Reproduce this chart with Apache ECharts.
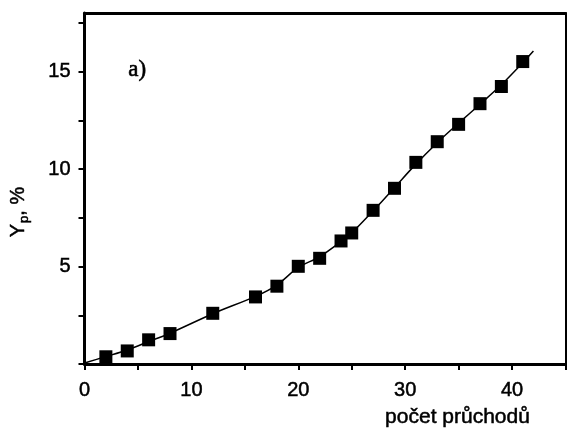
<!DOCTYPE html>
<html>
<head>
<meta charset="utf-8">
<script src="https://cdn.jsdelivr.net/npm/echarts@6/dist/echarts.min.js"></script>
<style>
  html, body { margin: 0; padding: 0; background: #fff; }
  #chart { width: 567px; height: 428px; }
</style>
</head>
<body>
<div id="chart"></div>
<script>
// Measured yield vs. number of passes
const passes   = [2, 4, 6, 8, 12, 16, 18, 20, 22, 24, 25, 27, 29, 31, 33, 35, 37, 39, 41];
const yieldPct = [0.37, 0.67, 1.24, 1.56, 2.60, 3.44, 3.99, 5.01, 5.42, 6.31, 6.72, 7.88, 9.01, 10.34, 11.40, 12.29, 13.35, 14.23, 15.51];

// Smooth trend curve through the measurements
const curveX = [0, 2, 4, 6, 8, 12, 16, 18, 20, 22, 24, 25, 27, 29, 31, 33, 35, 37, 39, 41, 42];
const curveY = [0.05, 0.38, 0.72, 1.15, 1.58, 2.58, 3.47, 4.05, 4.95, 5.50, 6.28, 6.72, 7.85, 9.05, 10.25, 11.35, 12.35, 13.32, 14.32, 15.45, 16.05];

// Axis ticks and labels
const xLabels = [0, 10, 20, 30, 40];
const xTicks  = [0, 5, 10, 15, 20, 25, 30, 35, 40, 45];
const yLabels = [5, 10, 15];
const yTicks  = [0, 2.5, 5, 7.5, 10, 12.5, 15, 17.5];

const pts = passes.map((x, i) => [x, yieldPct[i]]);
const curve = curveX.map((x, i) => [x, curveY[i]]);

const sans = 'Liberation Sans, Arial, sans-serif';
// slightly heavier glyphs for all text
const ink = { color: '#000', textBorderColor: '#000', textBorderWidth: 0.5 };
const chart = echarts.init(document.getElementById('chart'), null, { renderer: 'canvas' });

chart.setOption({
  backgroundColor: '#fff',
  animation: false,
  grid: { left: 84.5, right: 1.5, top: 13, bottom: 64, containLabel: false, outerBoundsMode: 'none' },
  xAxis: [{
    type: 'value', min: 0, max: 45,
    axisLine: { show: true, onZero: false, lineStyle: { color: '#000', width: 3 } },
    axisTick: { show: true, inside: false, length: 6, customValues: xTicks, lineStyle: { color: '#000', width: 2 } },
    axisLabel: Object.assign({ customValues: xLabels, margin: 16, fontFamily: sans, fontSize: 20 }, ink),
    splitLine: { show: false },
    name: 'počet průchodů',
    nameLocation: 'middle',
    nameGap: 43,
    nameTextStyle: Object.assign({ fontFamily: sans, fontSize: 21, padding: [0, 0, 0, 265] }, ink)
  }, {
    type: 'value', min: 0, max: 45, position: 'top',
    axisLine: { show: true, onZero: false, lineStyle: { color: '#000', width: 3 } },
    axisTick: { show: false }, axisLabel: { show: false }, splitLine: { show: false }
  }],
  yAxis: [{
    type: 'value', min: 0, max: 18,
    axisLine: { show: true, onZero: false, lineStyle: { color: '#000', width: 3 } },
    axisTick: { show: true, inside: false, length: 6, customValues: yTicks, lineStyle: { color: '#000', width: 2 } },
    axisLabel: Object.assign({ customValues: yLabels, margin: 14, fontFamily: sans, fontSize: 20 }, ink),
    splitLine: { show: false },
    name: '{m|Y}{s|p}{m|, %}',
    nameLocation: 'middle',
    nameGap: 54,
    nameRotate: 90,
    nameTextStyle: Object.assign({
      fontFamily: sans, fontSize: 20, padding: [0, 47, 0, 0],
      rich: {
        m: Object.assign({ fontFamily: sans, fontSize: 20 }, ink),
        s: Object.assign({ fontFamily: sans, fontSize: 13, padding: [12, 0, 0, 1] }, ink)
      }
    }, ink)
  }, {
    type: 'value', min: 0, max: 18, position: 'right',
    axisLine: { show: true, onZero: false, lineStyle: { color: '#000', width: 2 } },
    axisTick: { show: false }, axisLabel: { show: false }, splitLine: { show: false }
  }],
  graphic: [{
    type: 'text', left: 128, top: 58,
    style: {
      text: 'a)', fill: '#000', stroke: '#000', lineWidth: 0.6,
      font: '23px "Liberation Serif", "Times New Roman", serif'
    }
  }],
  series: [{
    type: 'line', data: curve, smooth: 0.3, showSymbol: false, symbol: 'none',
    lineStyle: { color: '#000', width: 1.5 }, z: 2
  }, {
    type: 'scatter', data: pts, symbol: 'rect', symbolSize: 13,
    itemStyle: { color: '#000', opacity: 1 }, z: 3
  }]
});
</script>
</body>
</html>
